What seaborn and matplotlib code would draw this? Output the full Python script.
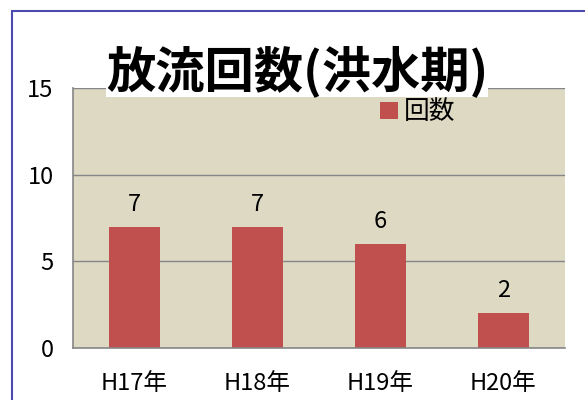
import matplotlib
matplotlib.use("Agg")
import matplotlib.pyplot as plt
import seaborn as sns
import pandas as pd
from matplotlib.patches import Rectangle

categories = ["H17年", "H18年", "H19年", "H20年"]
values = [7, 7, 6, 2]
series_name = "回数"
title = "放流回数(洪水期)"
yticks = [0, 5, 10, 15]

sns.set_style("white")
plt.rcParams['font.family'] = ['Noto Sans CJK JP', 'DejaVu Sans']
plt.rcParams['text.color'] = 'black'
plt.rcParams['xtick.color'] = 'black'
plt.rcParams['ytick.color'] = 'black'

df = pd.DataFrame({"year": categories, series_name: values, "s": [series_name]*len(values)})

fig = plt.figure(figsize=(5.85, 4.0), dpi=100)
ax = fig.add_axes([73/585, 52/400, 492/585, 260/400])
ax.set_facecolor("#DDD9C3")

sns.barplot(data=df, x="year", y=series_name, hue="s", palette=["#C0504D"],
            width=0.41, ax=ax, saturation=1, legend=True, linewidth=0)

ax.set_ylim(0, 15)
ax.set_xlim(-0.5, 3.5)
ax.set_yticks(yticks)
ax.yaxis.grid(True, color="#868686", linewidth=1)
ax.set_axisbelow(True)
ax.set_xlabel("")
ax.set_ylabel("")
for s in ["top", "right"]:
    ax.spines[s].set_visible(False)
for s in ["left", "bottom"]:
    ax.spines[s].set_color("#868686")
    ax.spines[s].set_linewidth(1.2)

ax.tick_params(axis="y", direction="in", length=6, color="#868686", labelcolor="black",
               labelsize=17, pad=14)
ax.tick_params(axis="x", which="major", length=0, labelsize=17, labelcolor="black", pad=17)
ax.set_xticks([0.5, 1.5, 2.5, 3.5], minor=True)
ax.tick_params(axis="x", which="minor", direction="in", length=6, color="#868686", width=1.2)

for c in ax.containers:
    ax.bar_label(c, labels=[str(v) for v in values], padding=8, fontsize=17, color="black")

leg = ax.legend(loc="upper left", bbox_to_anchor=(0.577, 1.045), frameon=False,
                handlelength=0.69, handleheight=0.69, handletextpad=0.23, fontsize=18.5)
for t in leg.get_texts():
    t.set_color("black")

fig.text(0.508, 0.822, title, ha="center", va="center", fontsize=35.5, fontweight="bold",
         color="black", bbox=dict(facecolor="white", edgecolor="none", pad=0))

fig.patches.append(Rectangle((12/585, -0.1), 1.2, (400 - 11)/400 + 0.1,
                             transform=fig.transFigure, fill=False,
                             edgecolor="#4B4BAF", linewidth=1.5))

fig.savefig("out.png", dpi=100)
